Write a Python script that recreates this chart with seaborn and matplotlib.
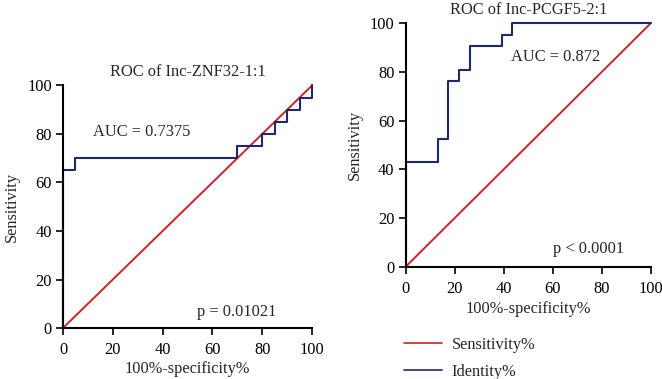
import matplotlib
matplotlib.use("Agg")
import matplotlib.pyplot as plt
import seaborn as sns
import pandas as pd
from matplotlib.lines import Line2D

# ROC vertices, left panel (Inc-ZNF32-1:1)
fpr_znf = [0, 0, 5, 5, 70, 70, 80, 80, 85, 85, 90, 90, 95, 95, 100, 100]
tpr_znf = [0, 65, 65, 70, 70, 75, 75, 80, 80, 85, 85, 90, 90, 95, 95, 100]
# ROC vertices, right panel (Inc-PCGF5-2:1)
fpr_pcg = [0, 0, 13.04, 13.04, 17.39, 17.39, 21.74, 21.74, 26.09, 26.09,
           39.13, 39.13, 43.48, 43.48, 100]
tpr_pcg = [0, 42.86, 42.86, 52.38, 52.38, 76.19, 76.19, 80.95, 80.95,
           90.48, 90.48, 95.24, 95.24, 100, 100]
ref_x = [0, 100]
ref_y = [0, 100]
ticks = [0, 20, 40, 60, 80, 100]
titles = ["ROC of Inc-ZNF32-1:1", "ROC of Inc-PCGF5-2:1"]
auc_text = ["AUC = 0.7375", "AUC = 0.872"]
p_text = ["p = 0.01021", "p < 0.0001"]

sns.set_theme(style="ticks")
plt.rcParams['font.family'] = ['Liberation Serif', 'DejaVu Serif']
FS = 11.8
plt.rcParams['font.size'] = FS

RED = "#cc2229"
BLUE = "#1c2a6b"

W, H = 662, 379
fig = plt.figure(figsize=(W / 100, H / 100), dpi=100)
ax1 = fig.add_axes([63 / W, 1 - 328 / H, 249 / W, 242.5 / H])
ax2 = fig.add_axes([405.7 / W, 1 - 266.7 / H, 245 / W, 243.4 / H])

panels = [
    (ax1, fpr_znf, tpr_znf, (11.9, 81), (53.7, 6.7), 2),
    (ax2, fpr_pcg, tpr_pcg, (42.9, 86.3), (60.3, 7.1), 3),
]
for i, (ax, fx, ty, apos, ppos, xlp) in enumerate(panels):
    sns.lineplot(x=ref_x, y=ref_y, ax=ax, color=RED, lw=1.4,
                 sort=False, estimator=None)
    sns.lineplot(x=fx, y=ty, ax=ax, color=BLUE, lw=1.5,
                 sort=False, estimator=None)
    ax.set_xlim(0, 100)
    ax.set_ylim(0, 100)
    ax.set_xticks(ticks)
    ax.set_yticks(ticks)
    ax.margins(0)
    sns.despine(ax=ax)
    for s in ["left", "bottom"]:
        ax.spines[s].set_linewidth(1.5)
        ax.spines[s].set_color("black")
    ax.tick_params(axis="both", direction="out", length=5, width=1.2,
                   labelsize=FS, colors="black", pad=3)
    ax.tick_params(axis="x", pad=5)
    ax.set_title(titles[i], fontsize=FS, pad=7)
    ax.set_xlabel("100%-specificity%", fontsize=FS, labelpad=xlp)
    ax.set_ylabel("Sensitivity", fontsize=FS, labelpad=5)
    ax.text(apos[0], apos[1], auc_text[i], fontsize=FS, va="center", ha="left")
    ax.text(ppos[0], ppos[1], p_text[i], fontsize=FS, va="center", ha="left")
    for l in ax.lines:
        l.set_clip_on(False)

handles = [Line2D([], [], color=RED, lw=1.2), Line2D([], [], color=BLUE, lw=1.2)]
fig.legend(handles, ["Sensitivity%", "Identity%"], loc="upper left",
           bbox_to_anchor=(404 / W, 1 - 337 / H), frameon=False,
           fontsize=FS, handlelength=2.3, handletextpad=0.6,
           labelspacing=0.65, borderaxespad=0, borderpad=0)

fig.savefig("out.png", dpi=100)
